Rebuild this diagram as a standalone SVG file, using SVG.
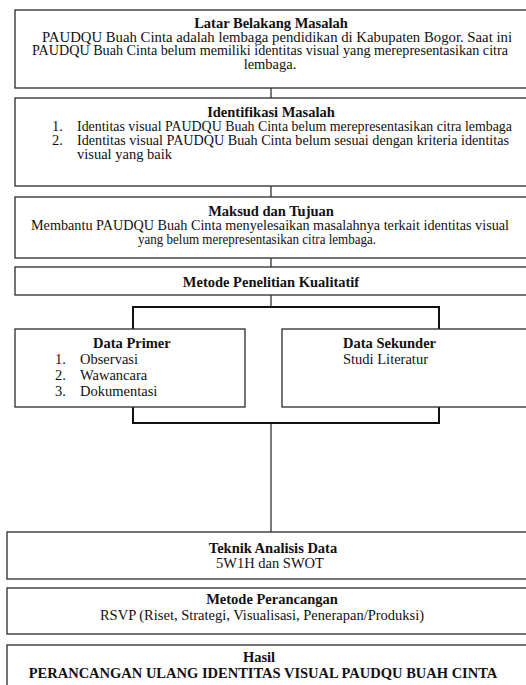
<svg xmlns="http://www.w3.org/2000/svg" width="526" height="685" viewBox="0 0 526 685">
<style>
.box{fill:#fff;stroke:#2a2a2a;stroke-width:1.3}
.t{font-family:"Liberation Serif","Times New Roman",serif;font-size:14.5px;fill:#111}
.b{font-weight:bold}
.m{text-anchor:middle}
.c{stroke:#222;stroke-width:1.2;fill:none}
.br{stroke:#111;stroke-width:2;fill:none}
</style>
<rect width="526" height="685" fill="#fff"/>
<g id="connectors">
<line class="c" x1="271" y1="88" x2="271" y2="98"/>
<line class="c" x1="271" y1="186" x2="271" y2="197"/>
<line class="c" x1="271" y1="258" x2="271" y2="267"/>
<line class="c" x1="271" y1="295" x2="271" y2="307"/>
<polyline class="br" points="133,329 133,307 439,307 439,329"/>
<polyline class="br" points="133,407 133,423 439,423 439,407"/>
<line class="c" x1="271" y1="423" x2="271" y2="532"/>
</g>
<g id="latar">
<rect class="box" x="15" y="10" width="512" height="78"/>
<text class="t b m" x="271" y="28">Latar Belakang Masalah</text>
<text class="t" x="42" y="41.5" textLength="470" lengthAdjust="spacingAndGlyphs">PAUDQU Buah Cinta adalah lembaga pendidikan di Kabupaten Bogor. Saat ini</text>
<text class="t" x="32" y="55" textLength="476" lengthAdjust="spacingAndGlyphs">PAUDQU Buah Cinta belum memiliki identitas visual yang merepresentasikan citra</text>
<text class="t m" x="270" y="68.5">lembaga.</text>
</g>
<g id="identifikasi">
<rect class="box" x="15" y="98" width="512" height="88"/>
<text class="t b m" x="271" y="117">Identifikasi Masalah</text>
<text class="t" x="52" y="131">1.</text>
<text class="t" x="77" y="131" textLength="435" lengthAdjust="spacingAndGlyphs">Identitas visual PAUDQU Buah Cinta belum merepresentasikan citra lembaga</text>
<text class="t" x="52" y="145">2.</text>
<text class="t" x="77" y="145" textLength="432" lengthAdjust="spacingAndGlyphs">Identitas visual PAUDQU Buah Cinta belum sesuai dengan kriteria identitas</text>
<text class="t" x="77" y="159">visual yang baik</text>
</g>
<g id="maksud">
<rect class="box" x="15" y="197" width="512" height="61"/>
<text class="t b m" x="271" y="216">Maksud dan Tujuan</text>
<text class="t" x="31" y="230" textLength="478" lengthAdjust="spacingAndGlyphs">Membantu PAUDQU Buah Cinta menyelesaikan masalahnya terkait identitas visual</text>
<text class="t" x="138" y="244" textLength="238" lengthAdjust="spacingAndGlyphs">yang belum merepresentasikan citra lembaga.</text>
</g>
<g id="metode-penelitian">
<rect class="box" x="15" y="267" width="512" height="28"/>
<text class="t b m" x="271" y="287">Metode Penelitian Kualitatif</text>
</g>
<g id="data-primer">
<rect class="box" x="15" y="329" width="230" height="78"/>
<text class="t b" x="93" y="348">Data Primer</text>
<text class="t" x="55" y="364">1.</text>
<text class="t" x="80" y="364">Observasi</text>
<text class="t" x="55" y="380">2.</text>
<text class="t" x="80" y="380">Wawancara</text>
<text class="t" x="55" y="396">3.</text>
<text class="t" x="80" y="396">Dokumentasi</text>
</g>
<g id="data-sekunder">
<rect class="box" x="282" y="329" width="260" height="78"/>
<text class="t b" x="343" y="348">Data Sekunder</text>
<text class="t" x="343" y="364">Studi Literatur</text>
</g>
<g id="teknik">
<rect class="box" x="7" y="532" width="530" height="47"/>
<text class="t b m" x="273" y="553">Teknik Analisis Data</text>
<text class="t m" x="270" y="568">5W1H dan SWOT</text>
</g>
<g id="metode-perancangan">
<rect class="box" x="7" y="588" width="530" height="46"/>
<text class="t b m" x="272" y="604">Metode Perancangan</text>
<text class="t m" x="262" y="620">RSVP (Riset, Strategi, Visualisasi, Penerapan/Produksi)</text>
</g>
<g id="hasil">
<rect class="box" x="7" y="645" width="530" height="60"/>
<text class="t b m" x="259" y="662">Hasil</text>
<text class="t b m" x="263" y="678">PERANCANGAN ULANG IDENTITAS VISUAL PAUDQU BUAH CINTA</text>
</g>
</svg>
